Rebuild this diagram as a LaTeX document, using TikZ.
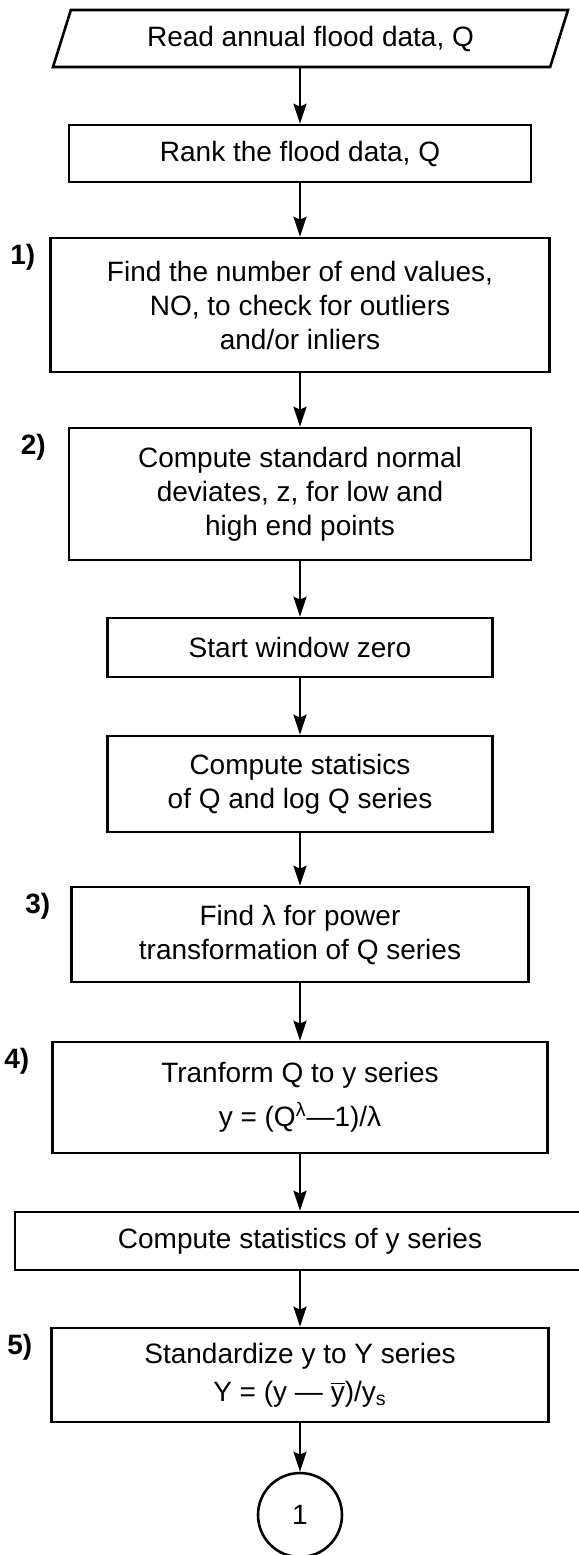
\documentclass[tikz,border=0pt]{standalone}
\usepackage{fontspec}
\setmainfont{Liberation Sans}
\usetikzlibrary{shapes.geometric,arrows.meta}

\begin{document}
\begin{tikzpicture}[x=0.5pt,y=-0.5pt,line width=1.3pt,
  font=\fontsize{14}{17}\selectfont,
  box/.style={rectangle,draw,align=center,inner sep=2pt},
  arr/.style={-{Stealth[length=10pt,width=6.5pt,inset=1.5pt]}},
  steplabel/.style={anchor=north east,font=\fontsize{14}{17}\selectfont\bfseries}]
\useasboundingbox (0,0) rectangle (579,1555);
\node [trapezium,draw,trapezium left angle=62,trapezium right angle=118,trapezium stretches body=true,
  minimum width=257.5pt,minimum height=28.5pt,inner sep=2pt] (read) at (310.5,38.5) {Read annual flood data, Q};
\node [box,minimum width=231pt,minimum height=28.5pt] (rank) at (300,153.5) {Rank the flood data, Q};
\node [box,minimum width=249.5pt,minimum height=67pt,label={[steplabel,xshift=-3pt]north west:1)}] (ends) at (300,305)
  {Find the number of end values,\\ NO, to check for outliers\\ and/or inliers};
\node [box,minimum width=231pt,minimum height=66pt,label={[steplabel,xshift=-7pt]north west:2)}] (dev) at (300,494)
  {Compute standard normal\\ deviates, z, for low and\\ high end points};
\node [box,minimum width=192.5pt,minimum height=29.5pt] (start) at (300,647.5) {Start window zero};
\node [box,minimum width=192.5pt,minimum height=48pt] (qstat) at (300,784)
  {Compute statisics\\ of Q and log Q series};
\node [box,minimum width=228.5pt,minimum height=47.5pt,label={[steplabel,xshift=-6pt]north west:3)}] (lam) at (300,934.5)
  {Find λ for power\\ transformation of Q series};
\node [box,minimum width=247.5pt,minimum height=55.5pt,label={[steplabel,xshift=-7pt]north west:4)}] (trans) at (300,1097.5)
  {Tranform Q to y series\\[5pt] y = (Q\textsuperscript{λ}—1)/λ};
\node [box,minimum width=285pt,minimum height=29pt] (ystat) at (300,1241) {Compute statistics of y series};
\node [box,minimum width=248.5pt,minimum height=47pt,label={[steplabel,xshift=-5pt]north west:5)}] (std) at (300,1375)
  {Standardize y to Y series\\[2pt] Y = (y — $\overline{\mbox{y}}$)/y\textsubscript{s}};
\node [circle,draw,minimum size=42pt,inner sep=0pt] (con) at (300,1515) {1};

\draw [arr] (rank.north |- read.south) -- (rank);
\draw [arr] (rank) -- (ends);
\draw [arr] (ends) -- (dev);
\draw [arr] (dev) -- (start);
\draw [arr] (start) -- (qstat);
\draw [arr] (qstat) -- (lam);
\draw [arr] (lam) -- (trans);
\draw [arr] (trans) -- (ystat);
\draw [arr] (ystat) -- (std);
\draw [arr] (std) -- (con);
\end{tikzpicture}
\end{document}
